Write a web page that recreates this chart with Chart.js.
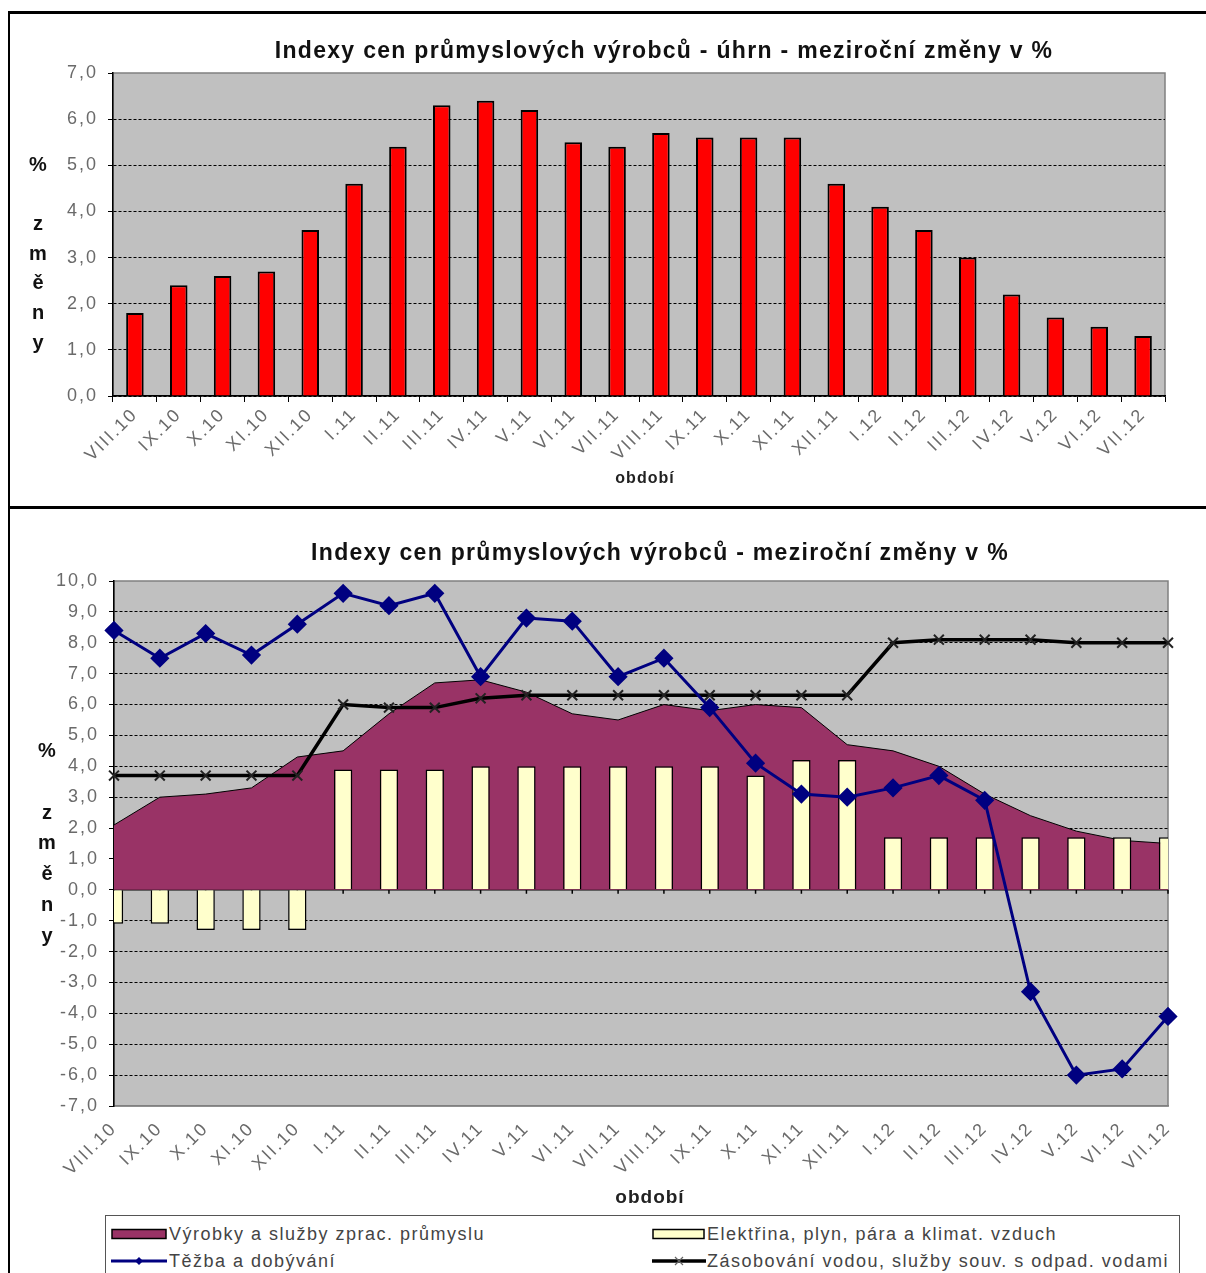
<!DOCTYPE html>
<html lang="cs">
<head>
<meta charset="utf-8">
<title>Indexy cen průmyslových výrobců</title>
<script src="https://cdn.jsdelivr.net/npm/chart.js@4.4.1/dist/chart.umd.min.js"></script>
<style>
  body { margin: 0; background: #fff; }
  #page { position: relative; width: 1206px; height: 1273px; overflow: hidden; font-family: "Liberation Sans", Arial, sans-serif; }
  canvas { position: absolute; left: 0; }
  .c { position: absolute; transform: translate(-50%, -50%); white-space: nowrap; }
  .title { font-weight: bold; font-size: 23px; letter-spacing: 1.3px; color: #111; }
  .ylab { position: absolute; width: 30px; transform: translateX(-50%); text-align: center; font-weight: bold; font-size: 20px; white-space: pre; color: #111; }
  .rule { position: absolute; background: #000; }
  #legend { position: absolute; left: 105px; top: 1215px; width: 1075px; height: 80px; border: 1px solid #555; background: #fff; box-sizing: border-box; }
  .item { position: absolute; font-size: 18px; letter-spacing: 1.5px; color: #444; white-space: nowrap; line-height: 20px; }
  .item svg { position: absolute; }
</style>
</head>
<body>
<div id="page">
  <canvas id="top" width="1206" height="505" style="top:0"></canvas>
  <canvas id="bottom" width="1206" height="765" style="top:508px"></canvas>

  <div class="rule" style="left:8px;top:11px;width:1198px;height:3px"></div>
  <div class="rule" style="left:8px;top:11px;width:2px;height:1262px"></div>
  <div class="rule" style="left:8px;top:506px;width:1198px;height:3px"></div>

  <div class="c title" style="left:664px;top:50px">Indexy cen průmyslových výrobců - úhrn - meziroční změny v %</div>
  <div class="ylab" style="left:38px;top:150px;line-height:29.6px">%

z
m
ě
n
y</div>
  <div class="c" style="left:645px;top:478px;font-weight:bold;font-size:16px;letter-spacing:1px;color:#222">období</div>

  <div class="c title" style="left:660px;top:552px">Indexy cen průmyslových výrobců - meziroční změny v %</div>
  <div class="ylab" style="left:47px;top:735px;line-height:30.8px">%

z
m
ě
n
y</div>
  <div class="c" style="left:650px;top:1197px;font-weight:bold;font-size:19px;letter-spacing:1px;color:#222">období</div>

  <div id="legend">
    <div class="item" style="left:5px;top:8px">
      <svg width="56" height="12" style="left:0;top:4px"><rect x="1" y="1.5" width="54" height="9" fill="#993366" stroke="#000" stroke-width="1.5"/></svg>
      <span style="margin-left:58px">Výrobky a služby zprac. průmyslu</span>
    </div>
    <div class="item" style="left:5px;top:35px">
      <svg width="56" height="12" style="left:0;top:4px"><line x1="0" y1="6" x2="56" y2="6" stroke="#000080" stroke-width="3"/><path d="M28 2 L32 6 L28 10 L24 6 Z" fill="#000080"/></svg>
      <span style="margin-left:58px">Těžba a dobývání</span>
    </div>
    <div class="item" style="left:546px;top:8px">
      <svg width="54" height="12" style="left:0;top:4px"><rect x="1" y="1.5" width="51" height="9" fill="#FFFFCC" stroke="#000" stroke-width="1.5"/></svg>
      <span style="margin-left:55px">Elektřina, plyn, pára a klimat. vzduch</span>
    </div>
    <div class="item" style="left:546px;top:35px">
      <svg width="54" height="12" style="left:0;top:4px"><line x1="0" y1="6" x2="54" y2="6" stroke="#000" stroke-width="3.5"/><path d="M23 2 L31 10 M31 2 L23 10" stroke="#666" stroke-width="1.2"/></svg>
      <span style="margin-left:55px">Zásobování vodou, služby souv. s odpad. vodami</span>
    </div>
  </div>
</div>

<script>
// období (měsíc.rok)
const periods = ['VIII.10', 'IX.10', 'X.10', 'XI.10', 'XII.10', 'I.11', 'II.11', 'III.11', 'IV.11', 'V.11',
    'VI.11', 'VII.11', 'VIII.11', 'IX.11', 'X.11', 'XI.11', 'XII.11', 'I.12', 'II.12', 'III.12',
    'IV.12', 'V.12', 'VI.12', 'VII.12'];

// horní graf - úhrn
const totalChange = [1.8, 2.4, 2.6, 2.7, 3.6, 4.6, 5.4, 6.3, 6.4, 6.2, 5.5, 5.4, 5.7, 5.6, 5.6, 5.6,
    4.6, 4.1, 3.6, 3.0, 2.2, 1.7, 1.5, 1.3];

// dolní graf - jednotlivé sekce
const manufacturing = [2.1, 3.0, 3.1, 3.3, 4.3, 4.5, 5.7, 6.7, 6.8, 6.4, 5.7, 5.5, 6.0, 5.8, 6.0, 5.9,
    4.7, 4.5, 4.0, 3.1, 2.4, 1.9, 1.6, 1.5];
const mining = [8.4, 7.5, 8.3, 7.6, 8.6, 9.6, 9.2, 9.6, 6.9, 8.8, 8.7, 6.9, 7.5, 5.9, 4.1, 3.1,
    3.0, 3.3, 3.7, 2.9, -3.3, -6.0, -5.8, -4.1];
const energy = [-1.1, -1.1, -1.3, -1.3, -1.3, 3.9, 3.9, 3.9, 4.0, 4.0, 4.0, 4.0, 4.0, 4.0, 3.7, 4.2,
    4.2, 1.7, 1.7, 1.7, 1.7, 1.7, 1.7, 1.7];
const water = [3.7, 3.7, 3.7, 3.7, 3.7, 6.0, 5.9, 5.9, 6.2, 6.3, 6.3, 6.3, 6.3, 6.3, 6.3, 6.3,
    6.3, 8.0, 8.1, 8.1, 8.1, 8.0, 8.0, 8.0];

const font = 'Liberation Sans, Arial, sans-serif';
const tickColor = '#6a6a6a';
const fmt = (v) => v.toFixed(1).replace('.', ',');

// širší proklad písma popisků os (jako v Excelu)
const spacing = {
    id: 'spacing',
    beforeUpdate(chart) { chart.ctx.letterSpacing = '2px'; },
    beforeDraw(chart) { chart.ctx.letterSpacing = '2px'; }
};

// šedé pozadí plochy grafu
const plotBg = {
    id: 'plotBg',
    beforeDraw(chart) {
        const {ctx, chartArea: a} = chart;
        ctx.save();
        ctx.fillStyle = '#c0c0c0';
        ctx.fillRect(a.left, a.top, a.right - a.left, a.bottom - a.top);
        ctx.strokeStyle = '#808080';
        ctx.lineWidth = 1.5;
        ctx.strokeRect(a.left, a.top, a.right - a.left, a.bottom - a.top);
        ctx.restore();
    }
};

// osa x na nule v dolním grafu
const zeroLine = {
    id: 'zeroLine',
    beforeDatasetsDraw(chart) {
        const {ctx, chartArea: a, scales: {x, y}} = chart;
        const y0 = y.getPixelForValue(0);
        ctx.save();
        ctx.strokeStyle = '#000';
        ctx.lineWidth = 1.5;
        ctx.beginPath();
        ctx.moveTo(a.left, y0);
        ctx.lineTo(a.right, y0);
        periods.forEach((p, i) => {
            const px = x.getPixelForValue(i);
            ctx.moveTo(px, y0);
            ctx.lineTo(px, y0 + 4);
        });
        ctx.stroke();
        ctx.restore();
    }
};

new Chart(document.getElementById('top'), {
    type: 'bar',
    data: {
        labels: periods,
        datasets: [{
            data: totalChange,
            backgroundColor: '#ff0000',
            borderColor: '#000',
            borderWidth: 2,
            barPercentage: 0.4,
            categoryPercentage: 1
        }]
    },
    options: {
        responsive: false,
        animation: false,
        devicePixelRatio: 1,
        layout: {padding: {left: 53, right: 41, top: 73, bottom: 0}},
        plugins: {legend: {display: false}, tooltip: {enabled: false}},
        scales: {
            x: {
                offset: true,
                grid: {offset: true, drawOnChartArea: false, tickLength: 6, tickColor: '#000'},
                border: {color: '#000', width: 1.5},
                ticks: {color: tickColor, font: {family: font, size: 18}, minRotation: 45, maxRotation: 45,
                    autoSkip: false, padding: 2},
                afterFit(s) { s.height = 109; }
            },
            y: {
                min: 0,
                max: 7,
                ticks: {stepSize: 1, color: tickColor, font: {family: font, size: 18}, padding: 10, callback: fmt},
                grid: {
                    color: (c) => (c.tick && c.tick.value === 7) ? 'rgba(0,0,0,0)' : '#000',
                    lineWidth: 1,
                    tickLength: 5,
                    tickColor: '#000'
                },
                border: {color: '#000', width: 1.5, dash: [3, 2]},
                afterFit(s) { s.width = 60; }
            }
        }
    },
    plugins: [spacing, plotBg]
});

new Chart(document.getElementById('bottom'), {
    type: 'bar',
    data: {
        labels: periods,
        datasets: [{
            type: 'line',
            label: 'Těžba a dobývání',
            data: mining,
            borderColor: '#000080',
            borderWidth: 3,
            pointStyle: 'rectRot',
            pointRadius: 7.5,
            pointBackgroundColor: '#000080',
            pointBorderColor: '#000080',
            order: 0
        }, {
            type: 'line',
            label: 'Zásobování vodou, služby souv. s odpad. vodami',
            data: water,
            borderColor: '#000',
            borderWidth: 3.5,
            pointStyle: 'crossRot',
            pointRadius: 7,
            pointBorderWidth: 2,
            pointBorderColor: '#222',
            order: 1
        }, {
            label: 'Elektřina, plyn, pára a klimat. vzduch',
            data: energy,
            backgroundColor: '#ffffcc',
            borderColor: '#000',
            borderWidth: 1.5,
            barPercentage: 0.4,
            categoryPercentage: 1,
            clip: 0,
            order: 2
        }, {
            type: 'line',
            label: 'Výrobky a služby zprac. průmyslu',
            data: manufacturing,
            borderColor: '#000',
            borderWidth: 1,
            backgroundColor: '#993366',
            fill: 'origin',
            pointRadius: 0,
            order: 3
        }]
    },
    options: {
        responsive: false,
        animation: false,
        devicePixelRatio: 1,
        layout: {padding: {left: 54, right: 38, top: 73, bottom: 0}},
        plugins: {legend: {display: false}, tooltip: {enabled: false}},
        scales: {
            x: {
                offset: false,
                grid: {offset: false, drawOnChartArea: false, drawTicks: false},
                border: {color: '#808080', width: 1.5},
                ticks: {color: tickColor, font: {family: font, size: 18}, minRotation: 45, maxRotation: 45,
                    autoSkip: false, padding: 12},
                afterFit(s) { s.height = 167; }
            },
            y: {
                min: -7,
                max: 10,
                ticks: {stepSize: 1, color: tickColor, font: {family: font, size: 18}, padding: 10, callback: fmt},
                grid: {
                    color: (c) => (c.tick && [10, 0, -7].includes(c.tick.value)) ? 'rgba(0,0,0,0)' : '#000',
                    lineWidth: 1,
                    tickLength: 5,
                    tickColor: '#000'
                },
                border: {color: '#000', width: 1.5, dash: [3, 2]},
                afterFit(s) { s.width = 60; }
            }
        }
    },
    plugins: [spacing, plotBg, zeroLine]
});
</script>
</body>
</html>
